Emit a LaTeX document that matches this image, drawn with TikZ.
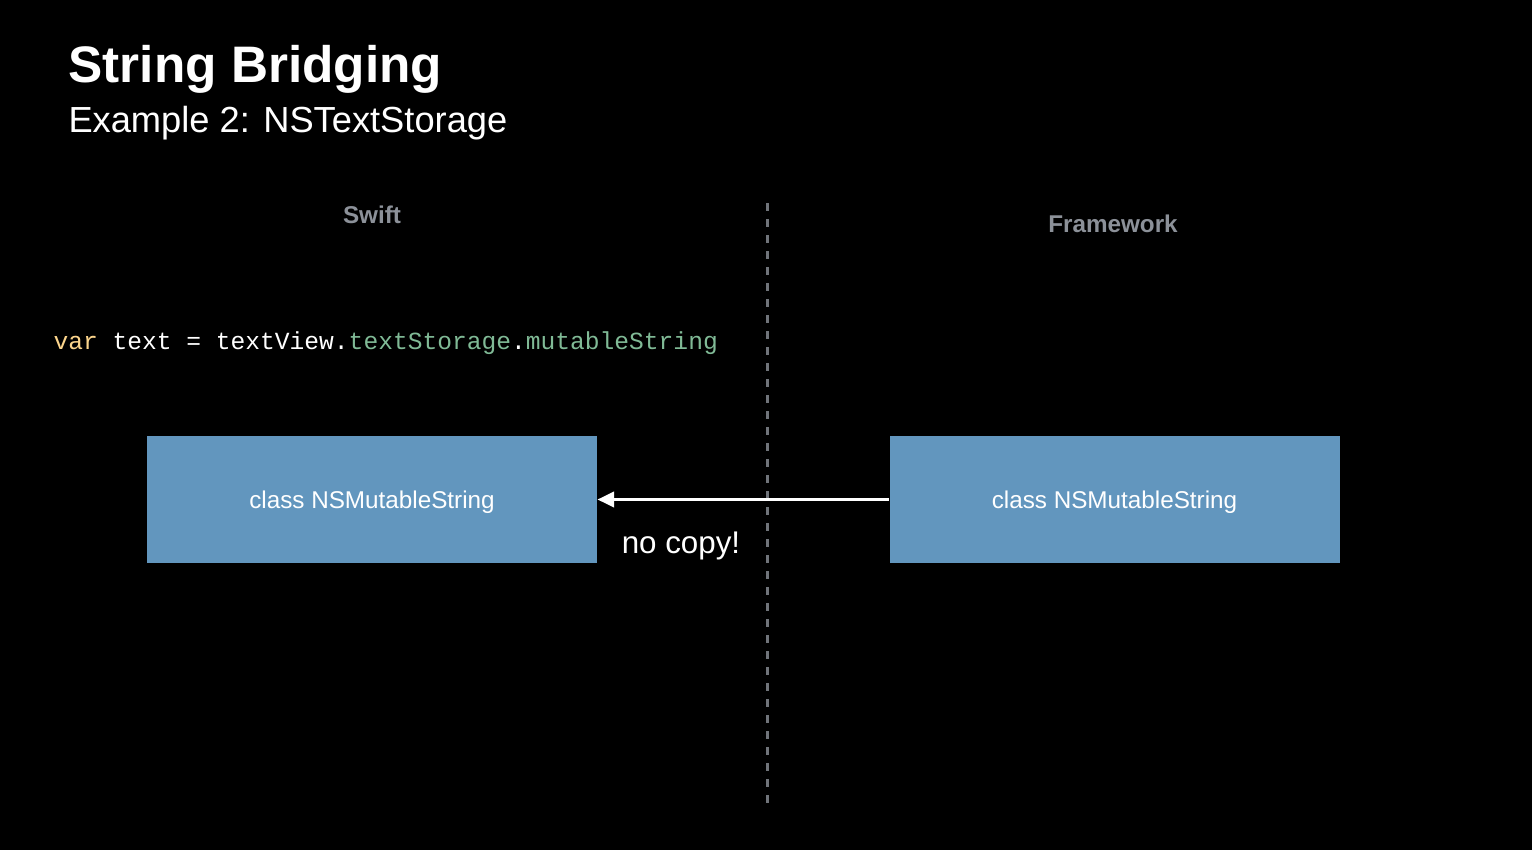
\documentclass[tikz,border=0pt]{standalone}
\usepackage{fontspec}
\setmainfont{Liberation Sans}
\setmonofont{Liberation Mono}
\usetikzlibrary{arrows.meta}

\definecolor{boxblue}{RGB}{98,150,190}
\definecolor{sidegrey}{RGB}{140,145,153}
\definecolor{dashgrey}{RGB}{112,116,122}
\definecolor{kwyellow}{RGB}{252,213,140}
\definecolor{propgreen}{RGB}{128,186,150}

\tikzset{every picture/.style={line width=0.75pt}}
\tikzset{
  classbox/.style={draw=none, fill=boxblue, text=white, minimum width=337.5pt, minimum height=95.5pt, inner sep=0pt, text height=13pt, text depth=0pt, font=\fontsize{18.2}{20}\selectfont},
  sidelabel/.style={text=sidegrey, inner sep=0pt, font=\fontsize{18.2}{20}\selectfont\bfseries},
}

\begin{document}
\begin{tikzpicture}[x=0.75pt,y=0.75pt,yscale=-1,xscale=1]
%set diagram left start at 0, and has height of 850
\fill[black] (0,0) rectangle (1532,850);
\useasboundingbox (0,0) rectangle (1532,850);

% Title
\draw (68,82) node [anchor=base west][inner sep=0pt][text=white][font=\fontsize{38.5}{40}\selectfont\bfseries] (title) {String Bridging};
% Subtitle
\draw (68,132) node [anchor=base west][inner sep=0pt][text=white][font=\fontsize{27.2}{30}\selectfont] (subtitle) {Example 2: NSTextStorage};

% Side labels
\draw (372,223) node [anchor=base][sidelabel] (swift) {Swift};
\draw (1113,232) node [anchor=base][sidelabel] (framework) {Framework};

%Dashed divider
\coordinate (divtop) at (767,203);
\coordinate (divbot) at (767,808);
\draw [dashgrey, line width=2.25pt, dash pattern=on 6pt off 6pt] (divtop) -- (divbot);

% Code line
\draw (53,349) node [anchor=base west][inner sep=0pt][text=white][font=\fontsize{18.45}{20}\selectfont\ttfamily] (code) {\textcolor{kwyellow}{var} text = textView.\textcolor{propgreen}{textStorage}.\textcolor{propgreen}{mutableString}};

% Boxes
\draw (372,499.5) node [classbox] (swiftstr) {class NSMutableString};
\draw (1114.5,499.5) node [classbox] (fwstr) {class NSMutableString};

%Arrow
\draw [white, line width=2.25pt, -{Triangle[length=12.5pt,width=11.5pt]}] (fwstr.west) -- (swiftstr.east);

% Text Node
\draw (681,553) node [anchor=base][inner sep=0pt][text=white][font=\fontsize{23.5}{26}\selectfont] (nocopy) {no copy!};

\end{tikzpicture}
\end{document}
